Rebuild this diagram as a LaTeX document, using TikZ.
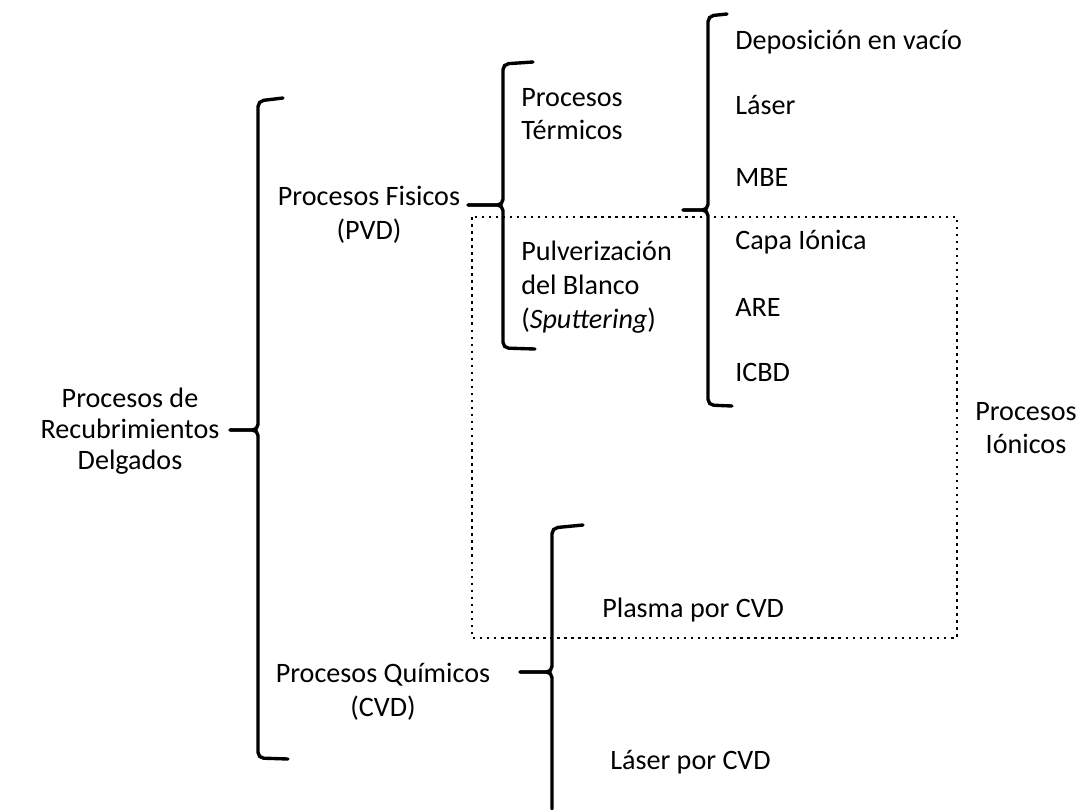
\documentclass[tikz,border=0pt]{standalone}
\usepackage{fontspec}
\setmainfont{Carlito}
\usetikzlibrary{positioning}
\tikzset{
    every node/.style={
        font=\fontsize{20}{24}\selectfont,
        inner sep=0pt
    },
    groupname/.style={
        align=center
    },
    item/.style={
        anchor=west,
        align=left
    },
    bracket/.style={
        line width=2.4pt,
        rounded corners=4pt,
        line cap=round
    },
    ionbox/.style={
        line width=2pt,
        dash pattern=on 1.8pt off 3.2pt
    }
}

\begin{document}
\begin{tikzpicture}[x=0.025cm, y=-0.025cm]
    \useasboundingbox (0,0) rectangle (1081,810);

    % Root
    \node[groupname, font=\fontsize{20}{22}\selectfont] (root) at (130,431) {Procesos de\\Recubrimientos\\Delgados};
    \draw[bracket] (283,98) -- (258,101) -- (258,430) -- (230,430);
    \draw[bracket] (230,430) -- (258,430) -- (258,758) -- (288,759);

    % Physical and chemical processes
    \node[groupname] (pvd) at (369,215) {Procesos Fisicos\\(PVD)};
    \node[groupname] (cvd) at (383,692) {Procesos Químicos\\(CVD)};

    % PVD brace
    \draw[bracket] (533,62) -- (503,64) -- (503,205) -- (468,205);
    \draw[bracket] (468,205) -- (503,205) -- (503,348) -- (535,349);
    \node[item] (termicos) at (521,114) {Procesos\\Térmicos};
    \node[item] (sputter) at (521,287) {Pulverización\\del Blanco\\(\textit{Sputtering})};

    % Techniques brace
    \draw[bracket] (727,14) -- (708,16) -- (708,210) -- (683,210);
    \draw[bracket] (683,210) -- (708,210) -- (708,405) -- (732,406);
    \node[item] (vacio) at (735,42) {Deposición en vacío};
    \node[item] (laser) at (735,105) {Láser};
    \node[item] (mbe) at (735,177) {MBE};
    \node[item] (capa) at (735,242) {Capa Iónica};
    \node[item] (are) at (735,307) {ARE};
    \node[item] (icbd) at (735,372) {ICBD};

    % Ionic processes
    \draw[ionbox] (472,217) rectangle (957,638);
    \node[groupname] (ionicos) at (1026,428) {Procesos\\Iónicos};

    % CVD brace
    \draw[bracket] (583,525) -- (552,528) -- (552,672) -- (520,672);
    \draw[bracket] (520,672) -- (552,672) -- (552,809);
    \node[item] (plasma) at (602,610) {Plasma por CVD};
    \node[item] (lasercvd) at (610,762) {Láser por CVD};
\end{tikzpicture}
\end{document}
